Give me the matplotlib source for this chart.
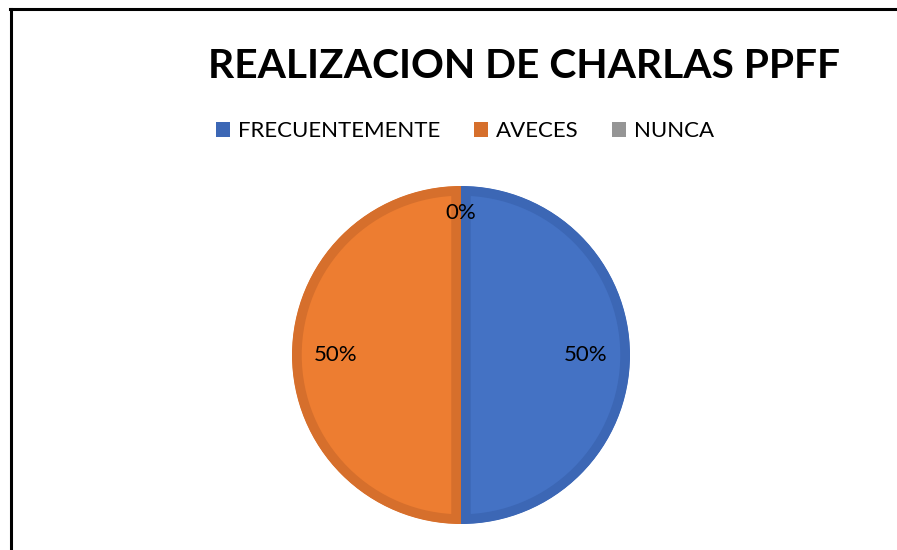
import matplotlib
matplotlib.use('Agg')
import matplotlib.pyplot as plt
from matplotlib.lines import Line2D
from matplotlib.patches import Rectangle
import numpy as np

title = "REALIZACION DE CHARLAS PPFF"
categories = ["FRECUENTEMENTE", "AVECES", "NUNCA"]
values = [50, 50, 0]
colors = ["#4472C4", "#ED7D31", "#A5A5A5"]
edge_colors = ["#3C67B5", "#D66F2C", "#959595"]

plt.rcParams['font.family'] = ['Lato', 'DejaVu Sans']

W, H = 897, 550
fig = plt.figure(figsize=(W / 100, H / 100), dpi=100)

# frame border (top and left only visible)
fig.add_artist(Line2D([10 / W, 1], [1 - 9 / H, 1 - 9 / H], color="black", lw=2.2))
fig.add_artist(Line2D([11 / W, 11 / W], [0, 1 - 9 / H], color="black", lw=2.2))

fig.text(524 / W, 1 - 66 / H, title, ha="center", va="center",
         fontsize=29.3, fontweight="bold", color="black")

# pie
cx, cy, r = 461, 355, 169
ax = fig.add_axes([(cx - r) / W, (H - cy - r) / H, 2 * r / W, 2 * r / H])
wedges, texts, autotexts = ax.pie(values, colors=colors, startangle=90, counterclock=False,
                                  radius=1, autopct="%1.0f%%", pctdistance=0.74,
                                  textprops=dict(fontsize=16, color="black"))
for w, ec, v in zip(wedges, edge_colors, values):
    if v == 0:
        w.set_linewidth(0)
        continue
    w.set_edgecolor(ec)
    w.set_linewidth(14)
    w.set_clip_on(True)
    w.set_clip_path(w)
for w, t, v in zip(wedges, autotexts, values):
    if v == 0:
        ang = np.deg2rad((w.theta1 + w.theta2) / 2)
        t.set_position((0.84 * np.cos(ang), 0.84 * np.sin(ang)))
ax.set_xlim(-1, 1)
ax.set_ylim(-1, 1)
ax.set_aspect("equal")
ax.axis("off")

# legend
handles = [Rectangle((0, 0), 1, 1, facecolor=ec) for ec in edge_colors]
fig.legend(handles, categories, loc="center", bbox_to_anchor=(465 / W, 1 - 131 / H),
           ncol=3, frameon=False, fontsize=16, handlelength=0.65, handleheight=0.65,
           handletextpad=0.35, columnspacing=1.5)

fig.savefig("out.png", dpi=100)
